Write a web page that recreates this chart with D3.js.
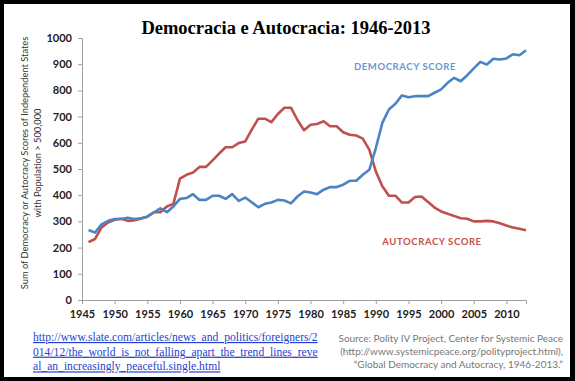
<!DOCTYPE html>
<html>
<head>
<meta charset="utf-8">
<script src="https://cdn.jsdelivr.net/npm/d3@7"></script>
<style>
  body { margin: 0; background: #000; }
  svg { display: block; }
</style>
</head>
<body>
<svg id="chart" width="575" height="381"></svg>
<script>
const years = d3.range(1946, 2014);

// democracy score, 1946..2013
const democracy = [
  267, 257, 289, 302, 309, 309, 314, 309, 312, 318,
  334, 350, 335, 357, 386, 389, 404, 382, 382, 398,
  398, 386, 404, 378, 391, 373, 354, 367, 372, 382,
  380, 369, 395, 414, 410, 404, 421, 431, 431, 440,
  455, 455, 478, 497, 580, 676, 727, 749, 781, 774,
  778, 778, 778, 791, 804, 829, 848, 835, 858, 884,
  909, 899, 921, 918, 922, 938, 934, 953
];

// autocracy score, 1946..2013
const autocracy = [
  221, 233, 277, 296, 306, 310, 302, 304, 310, 318,
  335, 335, 357, 367, 463, 478, 487, 508, 508, 533,
  559, 583, 583, 599, 605, 650, 692, 692, 679, 710,
  734, 734, 687, 648, 669, 672, 682, 663, 663, 640,
  631, 628, 616, 574, 491, 434, 398, 398, 372, 372,
  393, 395, 374, 353, 338, 329, 321, 312, 310, 300,
  300, 302, 300, 293, 284, 277, 272, 266
];

const yTicks = d3.range(0, 1001, 100);
const xTicks = d3.range(1945, 2011, 5);

const linkLines = [
  "http://www.slate.com/articles/news_and_politics/foreigners/2",
  "014/12/the_world_is_not_falling_apart_the_trend_lines_reve",
  "al_an_increasingly_peaceful.single.html"
];
const sourceLines = [
  "Source: Polity IV Project, Center for Systemic Peace",
  "(http://www.systemicpeace.org/polityproject.html),",
  "\u201cGlobal Democracy and Autocracy, 1946-2013.\u201d"
];

const svg = d3.select("#chart");
const demColor = "#4a84c4";
const autColor = "#c0504d";
const axisColor = "#a0a0a0";
const tickFont = "Lato, 'Noto Sans', sans-serif";

// frame
svg.append("rect").attr("width", 575).attr("height", 381).attr("fill", "#000");
svg.append("rect").attr("x", 4).attr("y", 4).attr("width", 566).attr("height", 373).attr("fill", "#fff");

const x = d3.scaleLinear().domain([1945, 2013]).range([82, 526]);
const y = d3.scaleLinear().domain([0, 1000]).range([300, 38]);

// title
svg.append("text")
  .attr("x", 286).attr("y", 34)
  .attr("text-anchor", "middle")
  .attr("font-family", "'Liberation Serif', 'Times New Roman', serif")
  .attr("font-weight", "bold")
  .attr("font-size", 18.5)
  .attr("fill", "#000")
  .text("Democracia e Autocracia: 1946-2013");

// axes
const yAxis = svg.append("g")
  .attr("transform", "translate(82,0)")
  .call(d3.axisLeft(y).tickValues(yTicks).tickSize(4).tickPadding(6).tickFormat(d3.format("d")));
const xAxis = svg.append("g")
  .attr("transform", "translate(0,300)")
  .call(d3.axisBottom(x).tickValues(xTicks).tickSize(4).tickPadding(6).tickFormat(d3.format("d")));

[yAxis, xAxis].forEach((g) => {
  g.select(".domain").attr("stroke", axisColor);
  g.selectAll(".tick line").attr("stroke", axisColor);
  g.selectAll(".tick text")
    .attr("font-family", tickFont)
    .attr("font-weight", "bold")
    .attr("font-size", 11)
    .attr("fill", "#222");
});

// y axis title
const yTitle = svg.append("text")
  .attr("transform", "translate(28,163) rotate(-90)")
  .attr("text-anchor", "middle")
  .attr("font-family", tickFont)
  .attr("font-size", 9.3)
  .attr("fill", "#333");
yTitle.append("tspan").attr("x", 0).attr("y", 0)
  .text("Sum of Democracy or Autocracy Scores of Independent States");
yTitle.append("tspan").attr("x", 0).attr("y", 12.5)
  .text("with Population > 500,000");

// lines
const lineGen = d3.line()
  .x((d, i) => x(years[i]))
  .y((d) => y(d));

svg.append("path")
  .datum(autocracy)
  .attr("d", lineGen)
  .attr("fill", "none")
  .attr("stroke", autColor)
  .attr("stroke-width", 2.6)
  .attr("stroke-linejoin", "round");

svg.append("path")
  .datum(democracy)
  .attr("d", lineGen)
  .attr("fill", "none")
  .attr("stroke", demColor)
  .attr("stroke-width", 2.6)
  .attr("stroke-linejoin", "round");

// series labels
svg.append("text")
  .attr("x", 405).attr("y", 70)
  .attr("text-anchor", "middle")
  .attr("font-family", tickFont)
  .attr("font-weight", "bold")
  .attr("font-size", 9.5)
  .attr("letter-spacing", 0.6)
  .attr("fill", "#6a98cc")
  .text("DEMOCRACY SCORE");

svg.append("text")
  .attr("x", 432).attr("y", 245)
  .attr("text-anchor", "middle")
  .attr("font-family", tickFont)
  .attr("font-weight", "bold")
  .attr("font-size", 9.5)
  .attr("letter-spacing", 0.6)
  .attr("fill", "#c4524e")
  .text("AUTOCRACY SCORE");

// link text
const link = svg.append("text")
  .attr("font-family", "'Liberation Serif', 'Times New Roman', serif")
  .attr("font-size", 11.6)
  .attr("fill", "#1f3fd0")
  .attr("text-decoration", "underline");
linkLines.forEach((t, i) => {
  link.append("tspan").attr("x", 33).attr("y", 341 + i * 14.7).text(t);
});

// source text
const src = svg.append("text")
  .attr("text-anchor", "end")
  .attr("font-family", tickFont)
  .attr("font-size", 10)
  .attr("fill", "#777");
sourceLines.forEach((t, i) => {
  src.append("tspan").attr("x", 563).attr("y", 342 + i * 13.2).text(t);
});
</script>
</body>
</html>
